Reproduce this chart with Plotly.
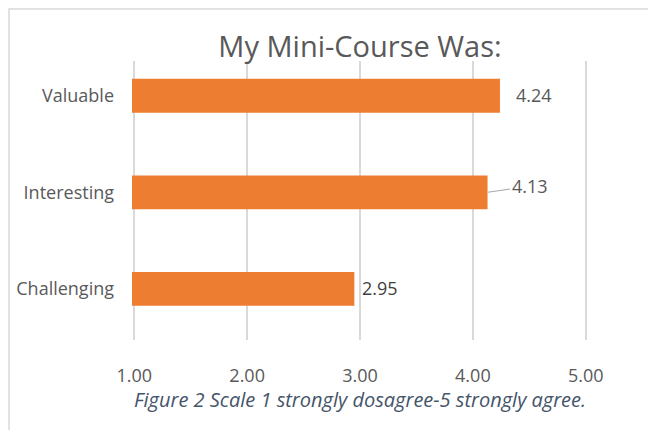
import plotly.graph_objects as go

categories = ["Challenging", "Interesting", "Valuable"]
scores = [2.95, 4.13, 4.24]
x_ticks = [1, 2, 3, 4, 5]
x_tick_labels = ["1.00", "2.00", "3.00", "4.00", "5.00"]

orange = "#ED7D31"
grey_text = "#595959"

fig = go.Figure()

fig.add_trace(go.Bar(
    x=scores,
    y=categories,
    orientation="h",
    marker=dict(color=orange, line=dict(width=0)),
    width=0.35,
    hoverinfo="skip",
))

# value labels (4.13 has a small leader line like the original)
label_styles = {
    "Valuable": dict(xshift=14, color=grey_text),
    "Interesting": dict(arrow=True, color=grey_text),
    "Challenging": dict(xshift=6, color="#404040"),
}
for cat, val in zip(categories, scores):
    st = label_styles[cat]
    if st.get("arrow"):
        fig.add_annotation(
            x=val, y=cat, text=f"{val:.2f}",
            showarrow=True, arrowhead=0, arrowwidth=1, arrowcolor="#A6A6A6",
            ax=42, ay=-6, font=dict(size=18, color=st["color"], family="Open Sans"),
        )
    else:
        fig.add_annotation(
            x=val, y=cat, text=f"{val:.2f}", showarrow=False,
            xanchor="left", xshift=st["xshift"], yshift=1,
            font=dict(size=18, color=st["color"], family="Open Sans"),
        )

# caption under the axis
fig.add_annotation(
    x=0.5, y=-0.215, xref="paper", yref="paper", yanchor="middle",
    text="<i>Figure 2 Scale 1 strongly dosagree-5 strongly agree.</i>",
    showarrow=False, font=dict(size=20, color="#44546A", family="Open Sans"),
)

# light frame of the chart area
fig.add_shape(
    type="rect", xref="paper", yref="paper",
    x0=-0.2697, x1=1.3, y0=-0.5, y1=1.186,
    line=dict(color="#D9D9D9", width=1.5), fillcolor="rgba(0,0,0,0)", layer="below",
)

# page body adds an 8px offset, margins are compensated for it
fig.update_layout(
    width=656, height=430,
    margin=dict(l=124, r=76, t=53, b=98, autoexpand=False),
    paper_bgcolor="white", plot_bgcolor="white",
    showlegend=False,
    title=dict(
        text="My Mini-Course Was:", x=0.5, xref="paper", y=0.91, yanchor="middle",
        font=dict(size=29, color=grey_text, family="Open Sans"),
    ),
    xaxis=dict(
        range=[0.98, 5.02], tickvals=x_ticks, ticktext=x_tick_labels,
        showgrid=True, gridcolor="#D9D9D9", gridwidth=1.5,
        zeroline=False, showline=False, automargin=False,
        ticks="", ticklabelstandoff=23,
        tickfont=dict(size=18, color=grey_text, family="Open Sans"),
    ),
    yaxis=dict(
        type="category", categoryarray=categories, range=[-0.53, 2.36],
        showgrid=False, zeroline=False, showline=False, automargin=False,
        ticks="", ticklabelstandoff=17,
        tickfont=dict(size=18, color=grey_text, family="Open Sans"),
    ),
)

fig.write_html("out.html")
